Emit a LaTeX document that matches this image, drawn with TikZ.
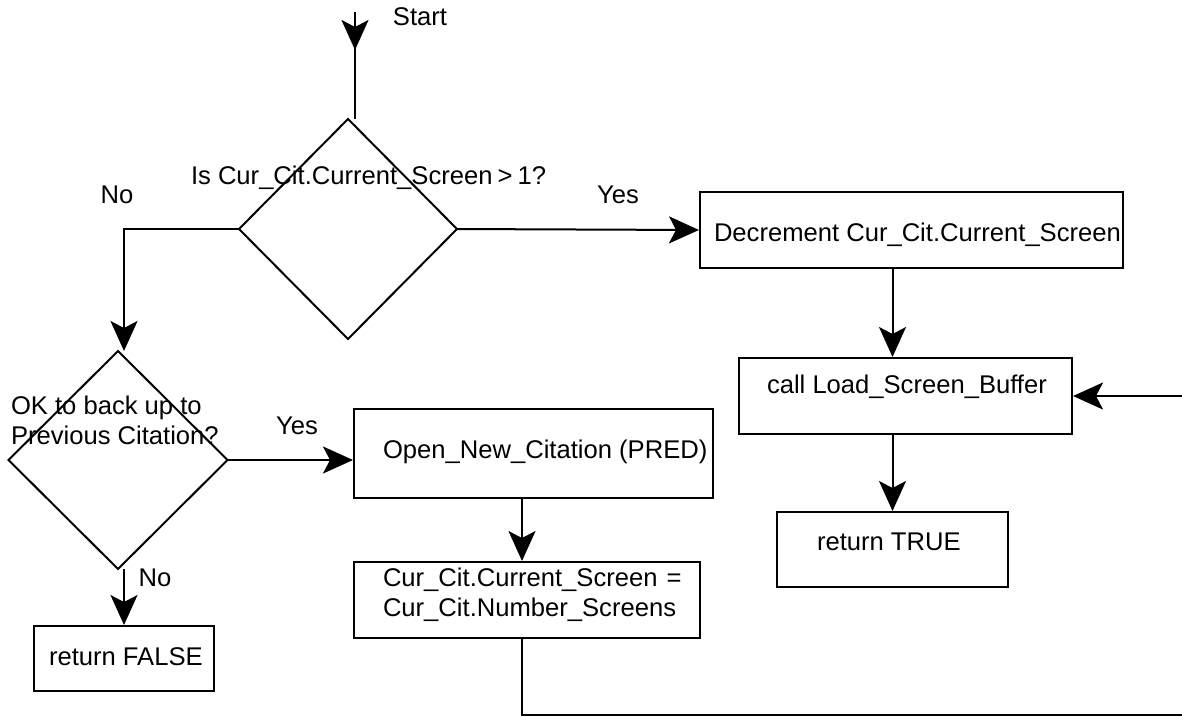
\documentclass[tikz,border=0pt]{standalone}
\usepackage{fontspec}
\setmainfont{Liberation Sans}
\usetikzlibrary{arrows.meta}
\begin{document}
\begin{tikzpicture}[x=1pt,y=-1pt,
  font=\fontsize{25.6}{30}\selectfont,
  line width=2pt,
  arr/.style={-{Stealth[length=30pt,width=27pt,inset=7pt]}},
  procbox/.style={draw,rectangle,inner sep=0pt},
  txt/.style={inner sep=0pt,anchor=west,align=left},
  lbl/.style={inner sep=0pt}]
\useasboundingbox (0,0) rectangle (1182,716);
\clip (0,0) rectangle (1182,716);

% decisions (drawn as explicit diamonds around named nodes)
\node[lbl,minimum width=216pt,minimum height=218pt] (d1) at (348,229) {};
\draw (d1.north) -- (d1.east) -- (d1.south) -- (d1.west) -- cycle;
\node[lbl,minimum width=217pt,minimum height=216pt] (d2) at (118,460) {};
\draw (d2.north) -- (d2.east) -- (d2.south) -- (d2.west) -- cycle;

% process boxes
\node[procbox,minimum width=423pt,minimum height=76pt] (b1) at (911.5,230) {};
\node[procbox,minimum width=333pt,minimum height=76pt] (b2) at (905.5,396) {};
\node[procbox,minimum width=231pt,minimum height=75pt] (b3) at (892.5,549.5) {};
\node[procbox,minimum width=359pt,minimum height=89pt] (b4) at (533.5,453.5) {};
\node[procbox,minimum width=346pt,minimum height=76pt] (b5) at (527,600) {};
\node[procbox,minimum width=180pt,minimum height=65pt] (b6) at (124,658.5) {};

% texts
\node[txt] (t1) at (713,235) {Decrement Cur\_Cit.Current\_Screen};
\node[txt] (t2) at (766,387) {call Load\_Screen\_Buffer};
\node[txt] (t3) at (816,542) {return TRUE};
\node[txt] (t4) at (382,452) {Open\_New\_Citation (PRED)};
\node[txt] (t5) at (382,595) {Cur\_Cit.Current\_Screen\hspace{9pt}=\\Cur\_Cit.Number\_Screens};
\node[txt] (t6) at (48,657) {return FALSE};
\node[txt] (q1) at (190,178) {Is Cur\_Cit.Current\_Screen\hspace{5pt}>\hspace{5pt}1?};
\node[txt] (q2) at (10,420) {OK to back up to\\Previous Citation?};

\node[lbl] (start) at (420,17) {Start};
\node[lbl] (no1) at (117,195) {No};
\node[lbl] (yes1) at (618,195) {Yes};
\node[lbl] (yes2) at (297,426) {Yes};
\node[lbl] (no2) at (155,578) {No};

% connectors
\coordinate (s0) at (355,12);
\coordinate (s1) at (355,50);
\coordinate (cx) at (522,0);
\coordinate (lx) at (124,0);
\coordinate (bl) at (522,715);
\coordinate (br) at (1195,715);
\coordinate (tr) at (1195,396);

\draw (s0) -- (d1.north -| s0);
\draw[arr] (s0) -- (s1);
\draw[arr] (d1.east) -- (b1.west);
\draw[arr] (d1.west) -- (d1.west -| lx) -- (d2.north -| lx);
\draw[arr] (b1.south -| b3) -- (b2.north -| b3);
\draw[arr] (b2.south -| b3) -- (b3.north);
\draw[arr] (d2.east) -- (d2.east -| b4.west);
\draw[arr] (b4.south -| cx) -- (b5.north -| cx);
\draw[arr] (d2.south -| lx) -- (b6.north);
\draw[arr] (b5.south -| cx) -- (bl) -- (br) -- (tr) -- (b2.east);
\end{tikzpicture}
\end{document}
